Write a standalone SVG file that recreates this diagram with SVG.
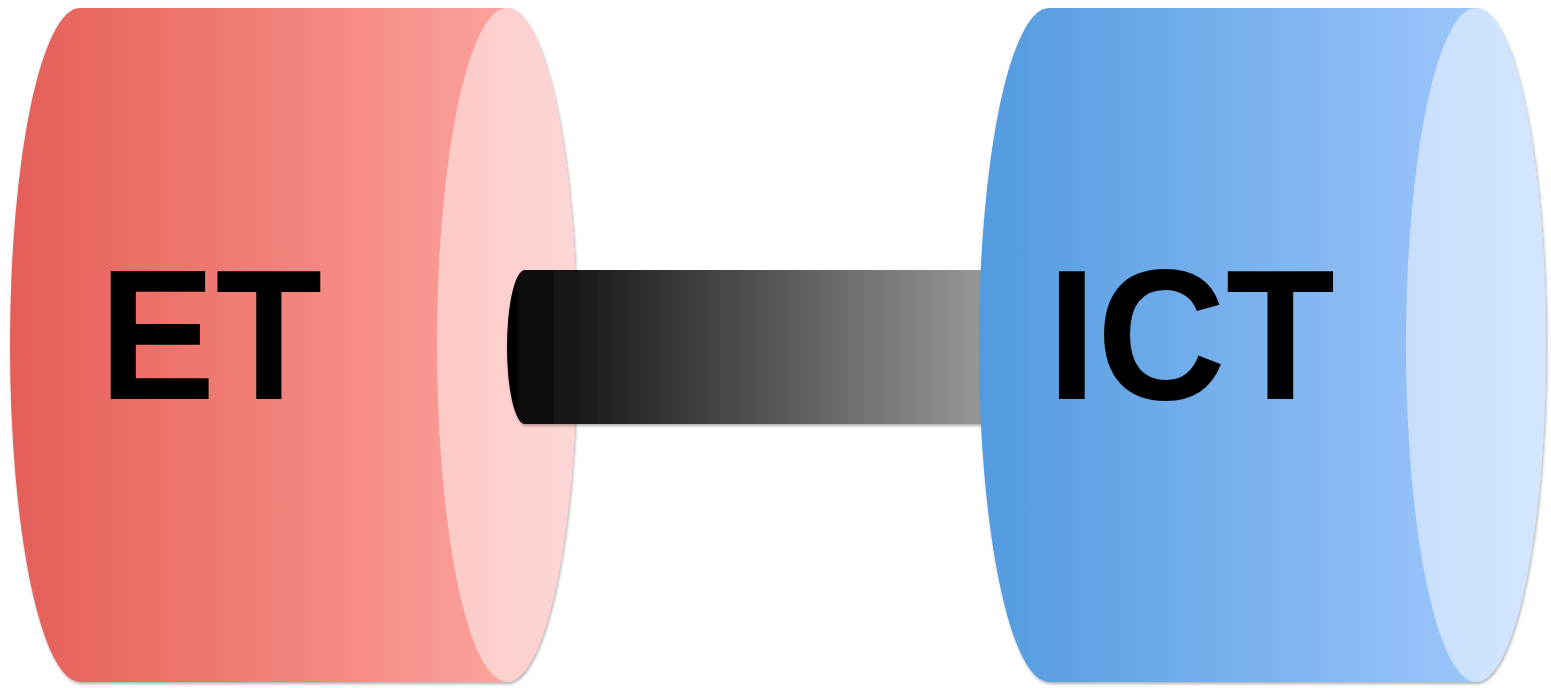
<svg xmlns="http://www.w3.org/2000/svg" width="1551" height="688" viewBox="0 0 1551 688">
  <defs>
    <linearGradient id="gRed" gradientUnits="userSpaceOnUse" x1="10" y1="0" x2="577" y2="0">
      <stop offset="0" stop-color="#E45F58"/>
      <stop offset="0.5" stop-color="#F3837C"/>
      <stop offset="1" stop-color="#FFADA8"/>
    </linearGradient>
    <linearGradient id="gRedCap" gradientUnits="userSpaceOnUse" x1="437" y1="0" x2="577" y2="0">
      <stop offset="0" stop-color="#FCC9C6"/>
      <stop offset="1" stop-color="#FFD7D7"/>
    </linearGradient>
    <linearGradient id="gBlue" gradientUnits="userSpaceOnUse" x1="979" y1="0" x2="1546" y2="0">
      <stop offset="0" stop-color="#529BDF"/>
      <stop offset="0.5" stop-color="#7CB3EF"/>
      <stop offset="1" stop-color="#A6CCFF"/>
    </linearGradient>
    <linearGradient id="gBlueCap" gradientUnits="userSpaceOnUse" x1="1405" y1="0" x2="1546" y2="0">
      <stop offset="0" stop-color="#C8DEFB"/>
      <stop offset="1" stop-color="#D4E7FF"/>
    </linearGradient>
    <linearGradient id="gBar" gradientUnits="userSpaceOnUse" x1="507" y1="0" x2="980" y2="0">
      <stop offset="0" stop-color="#030303"/>
      <stop offset="1" stop-color="#979797"/>
    </linearGradient>
    <filter id="shadow" x="-5%" y="-5%" width="110%" height="110%">
      <feDropShadow dx="1" dy="2" stdDeviation="1.5" flood-color="#000" flood-opacity="0.3"/>
    </filter>
  </defs>
  <style>
    .label { font-family: "Liberation Sans", Arial, sans-serif; font-weight: bold; font-size: 186px; fill: #000; }
  </style>
  <rect width="1551" height="688" fill="#FFFFFF"/>

  <g id="node-et" filter="url(#shadow)">
    <path d="M80,8 L507,8 A70,337 0 0 1 507,682 L80,682 A70,337 0 0 1 80,8 Z" fill="url(#gRed)"/>
    <ellipse cx="507" cy="345" rx="70" ry="337" fill="url(#gRedCap)"/>
    <text class="label" x="99" y="399" textLength="223" lengthAdjust="spacingAndGlyphs">ET</text>
  </g>

  <g id="connectors" filter="url(#shadow)">
    <path d="M525,270 L990,270 L990,424 L525,424 A18,77 0 0 1 525,270 Z" fill="url(#gBar)"/>
  </g>

  <g id="node-ict" filter="url(#shadow)">
    <path d="M1049,8 L1476,8 A70,337 0 0 1 1476,682 L1049,682 A70,337 0 0 1 1049,8 Z" fill="url(#gBlue)"/>
    <ellipse cx="1476" cy="345" rx="70" ry="337" fill="url(#gBlueCap)"/>
    <text class="label" x="1047" y="399" textLength="288" lengthAdjust="spacingAndGlyphs">ICT</text>
  </g>
</svg>
